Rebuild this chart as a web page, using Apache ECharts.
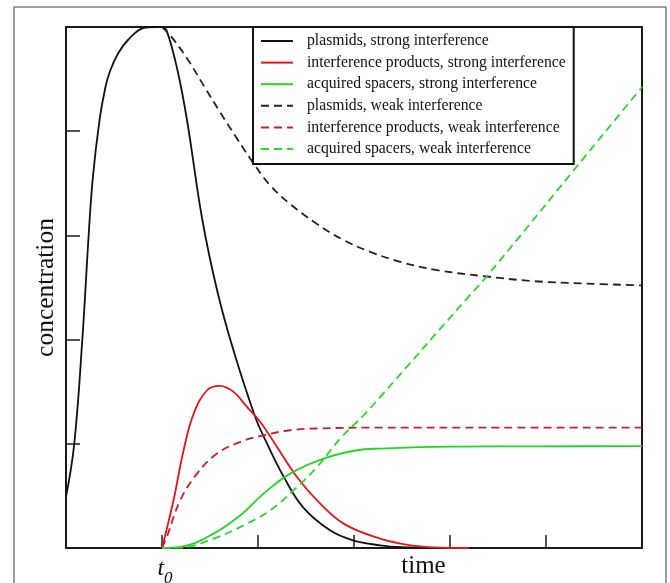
<!DOCTYPE html>
<html>
<head>
<meta charset="utf-8">
<script src="https://cdn.jsdelivr.net/npm/echarts@6/dist/echarts.min.js"></script>
<style>
html,body{margin:0;padding:0;background:#fff;}
#chart{width:670px;height:583px;}
</style>
</head>
<body>
<div id="chart"></div>
<script>
// ---- data ----
const seriesNames = [
  'plasmids, strong interference',
  'interference products, strong interference',
  'acquired spacers, strong interference',
  'plasmids, weak interference',
  'interference products, weak interference',
  'acquired spacers, weak interference'
];
const xTickLabels = ['', 't0', '', '', '', '', ''];
const xAxisTitle = 'time';
const yAxisTitle = 'concentration';

const plasmidsStrong = [
  [0, 0.49], [0.086, 1.0], [0.17, 2.0], [0.236, 3.0], [0.279, 3.55], [0.35, 4.11],
  [0.41, 4.42], [0.46, 4.58], [0.545, 4.75], [0.65, 4.88], [0.805, 4.99], [0.93, 5.0],
  [1.0, 5.0], [1.05, 4.96], [1.16, 4.59], [1.26, 4.11], [1.42, 3.15], [1.58, 2.45],
  [1.75, 1.88], [1.97, 1.26], [2.08, 1.03], [2.27, 0.68], [2.47, 0.39], [2.75, 0.17],
  [2.99, 0.074], [3.27, 0.026], [3.5, 0.007], [3.8, 0.0]
];
const productsStrong = [
  [1.0, 0.0], [1.12, 0.458], [1.225, 0.938], [1.33, 1.29], [1.47, 1.514], [1.6, 1.556],
  [1.746, 1.498], [1.885, 1.354], [2.024, 1.21], [2.198, 0.97], [2.406, 0.682],
  [2.615, 0.458], [2.892, 0.234], [3.274, 0.09], [3.59, 0.026], [3.9, 0.003], [4.2, 0.0]
];
const spacersStrong = [
  [1.0, 0.0], [1.19, 0.01], [1.538, 0.138], [1.816, 0.314], [2.058, 0.522], [2.336, 0.714],
  [2.683, 0.858], [3.031, 0.938], [3.274, 0.954], [4.0, 0.972], [5.0, 0.976], [6.0, 0.977]
];
const plasmidsWeak = [
  [1.0, 5.0], [1.086, 4.92], [1.26, 4.70], [1.433, 4.44], [1.607, 4.18], [1.781, 3.93],
  [1.954, 3.69], [2.128, 3.48], [2.336, 3.30], [2.615, 3.11], [2.892, 2.955],
  [3.17, 2.842], [3.482, 2.746], [3.865, 2.667], [4.35, 2.609], [4.871, 2.561],
  [5.392, 2.539], [6.0, 2.52]
];
const productsWeak = [
  [1.0, 0.0], [1.05, 0.106], [1.19, 0.458], [1.365, 0.714], [1.573, 0.906], [1.816, 1.018],
  [2.058, 1.082], [2.336, 1.13], [2.615, 1.147], [3.274, 1.156], [4.5, 1.156], [6.0, 1.156]
];
const spacersWeak = [
  [1.0, 0.0], [1.19, 0.003], [1.538, 0.09], [1.885, 0.234], [2.128, 0.362], [2.371, 0.554],
  [2.615, 0.778], [2.857, 1.05], [3.1, 1.274], [3.274, 1.45], [4.177, 2.395],
  [4.385, 2.609], [5.461, 3.819], [6.0, 4.424]
];

const seriesData = [plasmidsStrong, productsStrong, spacersStrong, plasmidsWeak, productsWeak, spacersWeak];
const seriesColors = ['#111111', '#e3141c', '#26d426', '#222222', '#c8202a', '#2bd62b'];
const seriesDashed = [false, false, false, true, true, true];

const serif = "'Liberation Serif', 'DejaVu Serif', serif";

const chart = echarts.init(document.getElementById('chart'), null, {renderer: 'canvas'});

const series = seriesNames.map((name, i) => ({
  name: name,
  type: 'line',
  data: seriesData[i],
  symbol: 'none',
  showSymbol: false,
  smooth: 0.4,
  color: seriesColors[i],
  lineStyle: {
    color: seriesColors[i],
    width: 1.8,
    type: seriesDashed[i] ? [8, 5] : 'solid'
  },
  z: 3
}));

chart.setOption({
  animation: false,
  backgroundColor: '#fff',
  graphic: [{
    type: 'rect',
    shape: {x: 14, y: 7, width: 652, height: 600},
    style: {fill: 'none', stroke: '#808080', lineWidth: 1.5},
    silent: true,
    z: -1
  }],
  grid: {
    left: 66, top: 27, width: 576, height: 521,
    containLabel: false,
    outerBoundsMode: 'none',
    show: true, borderColor: '#1a1a1a', borderWidth: 2, backgroundColor: 'transparent'
  },
  legend: {
    data: seriesNames,
    orient: 'vertical',
    left: 253, top: 27,
    itemWidth: 32, itemHeight: 10, itemGap: 5.6,
    padding: [6, 8, 7, 7],
    borderColor: '#111', borderWidth: 2, backgroundColor: '#fff',
    selectedMode: false,
    itemStyle: {color: 'rgba(0,0,0,0)', borderWidth: 0, borderColor: 'rgba(0,0,0,0)'},
    textStyle: {fontFamily: serif, fontSize: 15.7, color: '#111', lineHeight: 16, padding: [0, 0, 0, 9]},
    z: 5
  },
  xAxis: {
    type: 'value', min: 0, max: 6, interval: 1,
    name: xAxisTitle, nameLocation: 'middle', nameGap: 6,
    nameMoveOverlap: false,
    nameTextStyle: {fontFamily: serif, fontSize: 25, color: '#111', padding: [0, 0, 0, 139]},
    axisLine: {show: true, lineStyle: {color: '#1a1a1a', width: 2}},
    axisTick: {show: true, inside: true, length: 13, lineStyle: {color: '#1a1a1a', width: 1.5}},
    splitLine: {show: false},
    axisLabel: {
      show: true, margin: 3,
      formatter: function (v) {
        const lab = xTickLabels[Math.round(v)] || '';
        return lab ? '{a|' + lab.charAt(0) + '}{b|' + lab.slice(1) + '}' : '';
      },
      rich: {
        a: {fontFamily: serif, fontSize: 24, fontStyle: 'italic', color: '#111', padding: [0, 0, 0, 6]},
        b: {fontFamily: serif, fontSize: 17, fontStyle: 'italic', color: '#111', lineHeight: 36, verticalAlign: 'bottom'}
      }
    }
  },
  yAxis: {
    type: 'value', min: 0, max: 5, interval: 1,
    name: yAxisTitle, nameLocation: 'middle', nameGap: 7,
    nameMoveOverlap: false,
    nameTextStyle: {fontFamily: serif, fontSize: 25.5, color: '#111'},
    axisLine: {show: true, lineStyle: {color: '#1a1a1a', width: 2}},
    axisTick: {show: true, inside: true, length: 14, lineStyle: {color: '#1a1a1a', width: 1.5}},
    splitLine: {show: false},
    axisLabel: {show: false}
  },
  series: series
});
</script>
</body>
</html>
